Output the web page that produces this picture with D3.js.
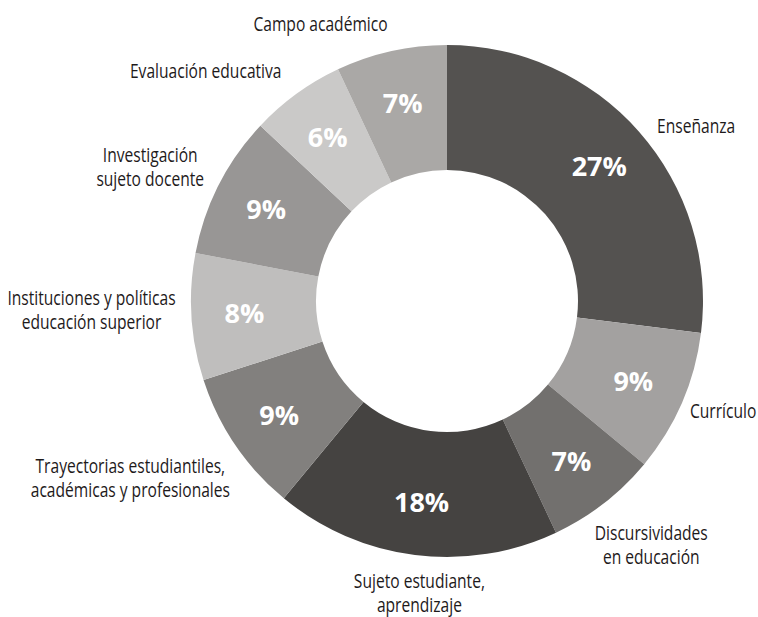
<!DOCTYPE html>
<html>
<head>
<meta charset="utf-8">
<script src="https://cdn.jsdelivr.net/npm/d3@7"></script>
<style>
  html, body { margin: 0; padding: 0; background: #ffffff; }
  svg { display: block; }
</style>
</head>
<body>
<svg id="chart" width="758" height="617"></svg>
<script>
// Categories (clockwise from 12 o'clock), each label split into lines
const categories = [
  ["Enseñanza"],
  ["Currículo"],
  ["Discursividades", "en educación"],
  ["Sujeto estudiante,", "aprendizaje"],
  ["Trayectorias estudiantiles,", "académicas y profesionales"],
  ["Instituciones y políticas", "educación superior"],
  ["Investigación", "sujeto docente"],
  ["Evaluación educativa"],
  ["Campo académico"]
];
const shares = [27, 9, 7, 18, 9, 8, 9, 6, 7];
const fills = ["#545250", "#a3a1a0", "#72706e", "#454341", "#82807e",
               "#bfbebd", "#989695", "#cac9c8", "#aaa8a6"];

// Label placement: text anchor, and nudge from the point just outside the ring
const labelLayout = [
  { anchor: "start",  dx: 9,   dy: 9 },
  { anchor: "start",  dx: -3,  dy: 11 },
  { anchor: "middle", dx: 40,  dy: 27 },
  { anchor: "middle", dx: 6,   dy: 21 },
  { anchor: "middle", dx: -95, dy: 21 },
  { anchor: "middle", dx: -88, dy: -13 },
  { anchor: "middle", dx: -58, dy: -17 },
  { anchor: "end",    dx: -8,  dy: -6 },
  { anchor: "middle", dx: -68, dy: -8 }
];

const cx = 447, cy = 301;
const outerR = 256, innerR = 131;
const lineHeight = 24;
const narrow = 0.8; // horizontal squeeze for the condensed category captions

const svg = d3.select("#chart");
const g = svg.append("g").attr("transform", `translate(${cx},${cy})`);

const data = shares.map((v, i) => ({ i, value: v, label: categories[i] }));

const pie = d3.pie().value(d => d.value).sort(null);
const arcs = pie(data);

const arc = d3.arc().innerRadius(innerR).outerRadius(outerR);
const pctArc = d3.arc().innerRadius(203).outerRadius(203);
const outArc = d3.arc().innerRadius(outerR + 12).outerRadius(outerR + 12);

g.selectAll("path.slice")
  .data(arcs)
  .join("path")
  .attr("class", "slice")
  .attr("d", arc)
  .attr("fill", d => fills[d.data.i]);

// Percentages inside the ring
g.selectAll("text.pct")
  .data(arcs)
  .join("text")
  .attr("class", "pct")
  .attr("transform", d => `translate(${pctArc.centroid(d)})`)
  .attr("text-anchor", "middle")
  .attr("dy", "0.36em")
  .attr("fill", "#ffffff")
  .style("font-family", "'Open Sans', 'Liberation Sans', sans-serif")
  .style("font-weight", 700)
  .style("font-size", "27px")
  .text(d => d3.format(".0%")(d.data.value / 100));

// Category names outside the ring
const labels = g.selectAll("text.cat")
  .data(arcs)
  .join("text")
  .attr("class", "cat")
  .attr("transform", d => {
    const [x, y] = outArc.centroid(d);
    const l = labelLayout[d.data.i];
    return `translate(${x + l.dx},${y + l.dy}) scale(${narrow},1)`;
  })
  .attr("text-anchor", d => labelLayout[d.data.i].anchor)
  .attr("fill", "#1e1a1b")
  .style("font-family", "'Open Sans', 'Noto Sans', sans-serif")
  .style("font-size", "19.5px");

labels.selectAll("tspan")
  .data(d => d.data.label)
  .join("tspan")
  .attr("x", 0)
  .attr("dy", (t, j) => j === 0 ? 0 : lineHeight)
  .text(t => t);
</script>
</body>
</html>
